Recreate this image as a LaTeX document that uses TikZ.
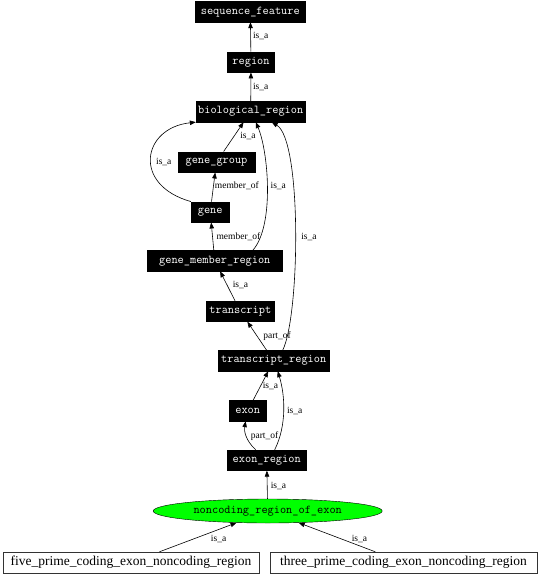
\documentclass[tikz,border=0pt]{standalone}
\usepackage{fontspec}
\setmainfont{Liberation Serif}
\usetikzlibrary{arrows.meta,shapes.geometric}

\begin{document}
\begin{tikzpicture}[x=1pt, y=-1pt,
  term/.style={draw=black, fill=black, text=white, font=\ttfamily\fontsize{12}{12}\selectfont, minimum height=20.5pt, inner sep=2pt},
  leaf/.style={draw=black!80, fill=white, font=\fontsize{13.5}{14}\selectfont, minimum height=21pt, inner sep=2pt},
  rel/.style={-{Triangle[length=6pt,width=4.5pt]}, line width=0.6pt},
  lbl/.style={font=\fontsize{9.5}{10}\selectfont, inner sep=0pt}]
  \useasboundingbox (0,0) rectangle (539,576);

  % Ancestor terms
  \node[term, minimum width=110.7pt] (seqfeat) at (250.3,11.7) {sequence\_feature};
  \node[term, minimum width=46.7pt] (region) at (251,62) {region};
  \node[term, minimum width=109.3pt] (bioregion) at (250.7,111.7) {biological\_region};
  \node[term, minimum width=77.6pt] (genegroup) at (216.5,162) {gene\_group};
  \node[term, minimum width=38.3pt] (gene) at (210.2,212) {gene};
  \node[term, minimum width=135pt] (genemember) at (214.8,260.8) {gene\_member\_region};
  \node[term, minimum width=67.3pt] (transcript) at (240.3,311.2) {transcript};
  \node[term, minimum width=110.7pt] (transregion) at (273.7,360.7) {transcript\_region};
  \node[term, minimum width=36.7pt] (exon) at (247.7,410.7) {exon};
  \node[term, minimum width=78.7pt] (exonregion) at (266.7,460.2) {exon\_region};

  % Focus term
  \node[ellipse, draw=black, fill=green, minimum width=229pt, minimum height=24pt, inner sep=0pt, font=\ttfamily\fontsize{12}{12}\selectfont] (ncexon) at (267.7,511) {noncoding\_region\_of\_exon};

  % Child terms
  \node[leaf, minimum width=256pt] (fiveprime) at (131,562.5) {five\_prime\_coding\_exon\_noncoding\_region};
  \node[leaf, minimum width=266.5pt] (threeprime) at (403.5,562.5) {three\_prime\_coding\_exon\_noncoding\_region};

  % Straight relations
  \draw[rel] (region) -- (seqfeat) node[lbl] at (260.7,36) {is\_a};
  \draw[rel] (bioregion) -- (region) node[lbl] at (260.7,86.7) {is\_a};
  \draw[rel] (genegroup) -- (bioregion) node[lbl] at (248,136) {is\_a};
  \draw[rel] (gene) -- (genegroup) node[lbl] at (236.8,185.7) {member\_of};
  \draw[rel] (genemember) -- (gene) node[lbl] at (238.5,236.7) {member\_of};
  \draw[rel] (transcript) -- (genemember) node[lbl] at (240.5,285) {is\_a};
  \draw[rel] (transregion) -- (transcript) node[lbl] at (277,335.7) {part\_of};
  \draw[rel] (exon) -- (transregion) node[lbl] at (270.5,385.7) {is\_a};
  \draw[rel] (ncexon) -- (exonregion) node[lbl] at (278.4,485.5) {is\_a};
  \draw[rel] (fiveprime) -- (ncexon) node[lbl] at (218.6,539) {is\_a};
  \draw[rel] (threeprime) -- (ncexon) node[lbl] at (359.5,539) {is\_a};

  % Curved relations
  \draw[rel] (gene.north west) .. controls (132,185) and (142,128) .. (bioregion.south west) node[lbl] at (163.8,161.7) {is\_a};
  \draw[rel] ([xshift=38pt]genemember.north) .. controls (275,225) and (268,150) .. ([xshift=5pt]bioregion.south) node[lbl] at (278.3,185.7) {is\_a};
  \draw[rel] ([xshift=9pt]transregion.north) .. controls (300,315) and (302,140) .. ([xshift=21pt]bioregion.south) node[lbl] at (309,236.7) {is\_a};
  \draw[rel] ([xshift=8pt]exonregion.north) .. controls (287,425) and (285,395) .. ([xshift=4pt]transregion.south) node[lbl] at (294.7,410.7) {is\_a};
  \draw[rel] ([xshift=-11pt]exonregion.north) .. controls (245,440) and (244,430) .. ([xshift=-2pt]exon.south) node[lbl] at (264.5,435.7) {part\_of};
\end{tikzpicture}
\end{document}
